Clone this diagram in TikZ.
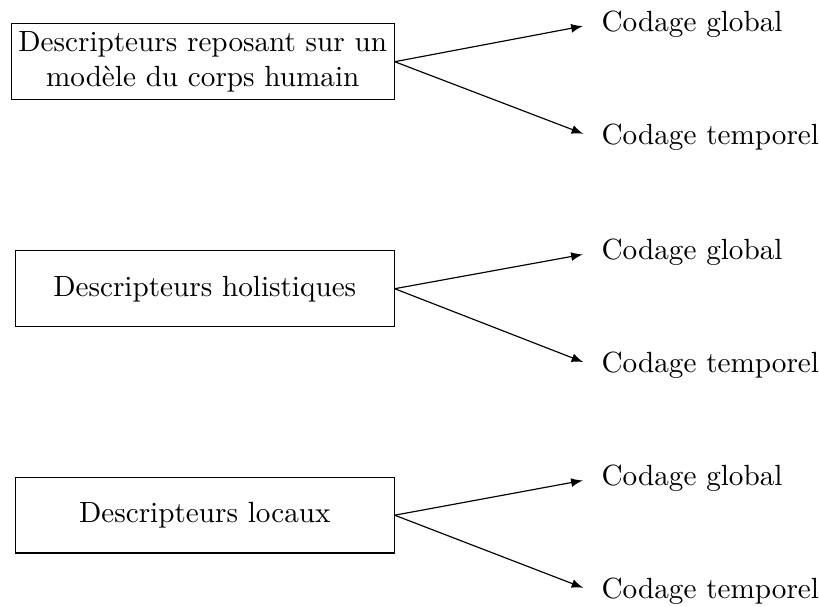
\documentclass[tikz,border=0pt]{standalone}
\usetikzlibrary{arrows}
\begin{document}
\begin{tikzpicture}[x=0.3425pt,y=-0.3425pt,
  descbox/.style={draw,line width=0.4pt,align=center,inner sep=2.4pt,minimum width=129.7pt,minimum height=25.9pt,anchor=east},
  codetext/.style={anchor=west,inner sep=3pt},
  conn/.style={-latex,line width=0.4pt,shorten >=3.3pt}]
\useasboundingbox (0,0) rectangle (819,606);
\node[descbox] (b1) at (394.7,61.7) {Descripteurs reposant sur un\\modèle du corps humain};
\node[descbox] (b2) at (394.7,288.7) {Descripteurs holistiques};
\node[descbox] (b3) at (394.7,515.2) {Descripteurs locaux};
\node[codetext] (g1) at (592.3,24.3) {Codage global};
\node[codetext] (t1) at (592.3,137.2) {Codage temporel};
\node[codetext] (g2) at (592.3,252.7) {Codage global};
\node[codetext] (t2) at (592.3,365.6) {Codage temporel};
\node[codetext] (g3) at (592.3,478.7) {Codage global};
\node[codetext] (t3) at (592.3,591.3) {Codage temporel};
\draw[conn] (b1.east) -- (g1.west);
\draw[conn] (b1.east) -- (t1.west);
\draw[conn] (b2.east) -- (g2.west);
\draw[conn] (b2.east) -- (t2.west);
\draw[conn] (b3.east) -- (g3.west);
\draw[conn] (b3.east) -- (t3.west);
\end{tikzpicture}
\end{document}
